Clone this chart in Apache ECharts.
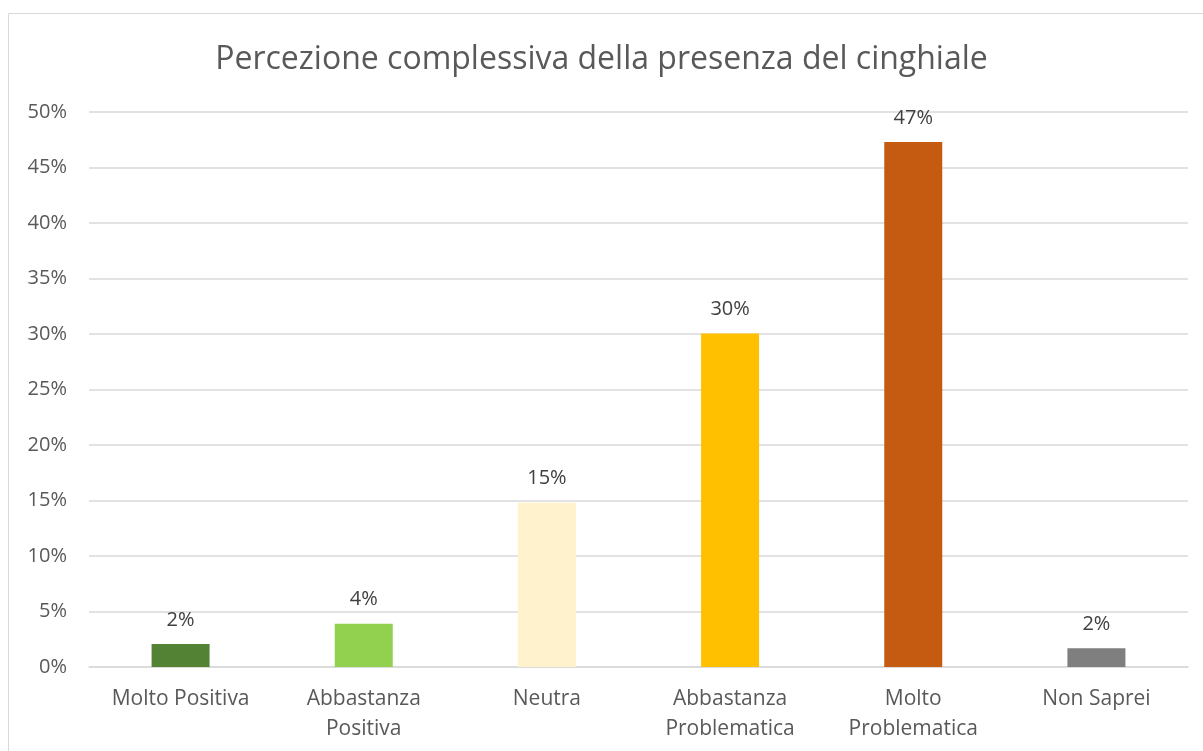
<!DOCTYPE html>
<html>
<head>
<meta charset="utf-8">
<style>
html,body{margin:0;padding:0;background:#fff;}
#c{width:1203px;height:751px;}
</style>
<script src="https://cdn.jsdelivr.net/npm/echarts@6/dist/echarts.min.js"></script>
</head>
<body>
<div id="c"></div>
<script>
const titleText = "Percezione complessiva della presenza del cinghiale";
const categories = ["Molto Positiva", "Abbastanza\nPositiva", "Neutra", "Abbastanza\nProblematica", "Molto\nProblematica", "Non Saprei"];
const values = [2.07, 3.9, 14.8, 30.05, 47.3, 1.7];
const barColors = ["#548235", "#92d050", "#fff2cc", "#ffc000", "#c55a11", "#7f7f7f"];
const yTicks = { min: 0, max: 50, interval: 5 };

const chart = echarts.init(document.getElementById('c'));
const font = "'Open Sans', sans-serif";
chart.setOption({
  animation: false,
  backgroundColor: '#fff',
  graphic: [{
    type: 'rect', shape: { x: 8.5, y: 13.5, width: 1300, height: 800 },
    style: { fill: 'none', stroke: '#d9d9d9', lineWidth: 1 }, z: -1
  }],
  title: {
    text: titleText, left: 'center', top: 39,
    textStyle: { fontFamily: font, fontSize: 32, fontWeight: 'normal', color: '#595959' }
  },
  grid: { left: 89, right: 15, top: 112, bottom: 84, containLabel: false },
  xAxis: {
    type: 'category', data: categories,
    axisLine: { show: true, lineStyle: { color: '#d9d9d9', width: 1.5 } },
    axisTick: { show: false },
    axisLabel: { fontFamily: font, fontSize: 21, color: '#595959', margin: 17, lineHeight: 30, interval: 0 }
  },
  yAxis: {
    type: 'value', min: yTicks.min, max: yTicks.max, interval: yTicks.interval,
    axisLine: { show: false }, axisTick: { show: false },
    splitLine: { lineStyle: { color: '#d9d9d9', width: 1.5 } },
    axisLabel: { fontFamily: font, fontSize: 20, color: '#595959', margin: 22, formatter: v => v + '%' }
  },
  series: [{
    type: 'bar', barWidth: 58,
    data: values.map((v, i) => ({ value: v, itemStyle: { color: barColors[i] } })),
    label: {
      show: true, position: 'top', distance: 14,
      fontFamily: font, fontSize: 20, color: '#404040',
      formatter: p => Math.round(p.value) + '%'
    }
  }]
});
</script>
</body>
</html>
